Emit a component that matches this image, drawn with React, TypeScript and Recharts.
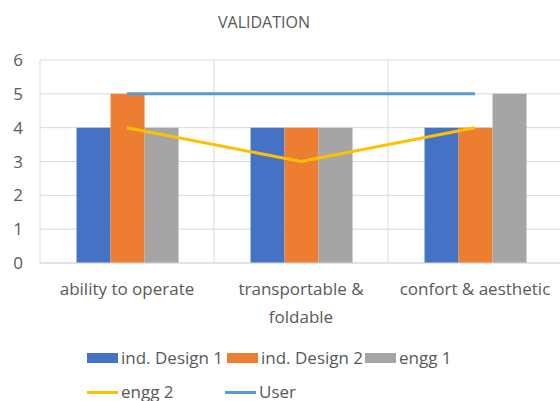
import React from 'react';
import { ComposedChart, Bar, Line, XAxis, YAxis, CartesianGrid, Text } from 'recharts';

const categories = ['ability to operate', 'transportable & foldable', 'confort & aesthetic'];
const indDesign1 = [4, 4, 4];
const indDesign2 = [5, 4, 4];
const engg1 = [4, 4, 5];
const engg2 = [4, 3, 4];
const user = [5, 5, 5];
const yTicks = [0, 1, 2, 3, 4, 5, 6];

const data = categories.map((c, i) => ({
  name: c,
  d1: indDesign1[i],
  d2: indDesign2[i],
  e1: engg1[i],
  e2: engg2[i],
  user: user[i],
}));

const FONT = "'Open Sans', sans-serif";
const TXT = '#595959';

const XTick = (props: any) => {
  const { x, y, payload } = props;
  return (
    <Text x={x} y={y} width={168} textAnchor="middle" verticalAnchor="start" lineHeight={28}
      style={{ fontFamily: FONT, fontSize: 17, fill: TXT }}>
      {payload.value}
    </Text>
  );
};

const legendItems = [
  { label: 'ind. Design 1', color: '#4472C4', kind: 'rect', left: 87, top: 358 },
  { label: 'ind. Design 2', color: '#ED7D31', kind: 'rect', left: 227, top: 358 },
  { label: 'engg 1', color: '#A5A5A5', kind: 'rect', left: 365, top: 358 },
  { label: 'engg 2', color: '#FFC000', kind: 'line', left: 87, top: 392 },
  { label: 'User', color: '#5B9BD5', kind: 'line', left: 225, top: 392 },
];

export default function App() {
  return (
    <div style={{ position: 'absolute', left: 0, top: 0, width: 560, height: 401, background: '#fff', overflow: 'hidden' }}>
      <div style={{ position: 'absolute', top: 11, left: -16, width: 560, textAlign: 'center', fontFamily: FONT, fontSize: 16, lineHeight: '22px', color: TXT }}>
        VALIDATION
      </div>
      <ComposedChart width={560} height={401} data={data}
        margin={{ top: 60, right: -2, left: 0, bottom: 98 }}
        barCategoryGap="21%" barGap={0}>
        <CartesianGrid stroke="#D9D9D9"
          verticalCoordinatesGenerator={({ offset }: any) => [0, 1, 2, 3].map((i) => offset.left + (i * offset.width) / 3)} />
        <XAxis dataKey="name" height={40} axisLine={{ stroke: '#D9D9D9' }} tickLine={false} tick={<XTick />} tickMargin={14} interval={0} />
        <YAxis width={40} domain={[0, 6]} ticks={yTicks} axisLine={false} tickLine={false} tickMargin={11}
          tick={{ fontFamily: FONT, fontSize: 17, fill: TXT }} />
        <Bar dataKey="d1" fill="#4472C4" isAnimationActive={false} />
        <Bar dataKey="d2" fill="#ED7D31" isAnimationActive={false} />
        <Bar dataKey="e1" fill="#A5A5A5" isAnimationActive={false} />
        <Line dataKey="e2" stroke="#FFC000" strokeWidth={3} dot={false} isAnimationActive={false} />
        <Line dataKey="user" stroke="#5B9BD5" strokeWidth={3} dot={false} isAnimationActive={false} />
      </ComposedChart>
      {legendItems.map((it) => (
        <React.Fragment key={it.label}>
          <div style={{
            position: 'absolute', left: it.left, width: 31,
            top: it.kind === 'rect' ? it.top - 5 : it.top - 1.5,
            height: it.kind === 'rect' ? 10 : 3, background: it.color,
          }} />
          <div style={{
            position: 'absolute', left: it.left + 34, top: it.top - 12, lineHeight: '24px',
            fontFamily: FONT, fontSize: 17, color: TXT, whiteSpace: 'nowrap',
          }}>{it.label}</div>
        </React.Fragment>
      ))}
    </div>
  );
}
